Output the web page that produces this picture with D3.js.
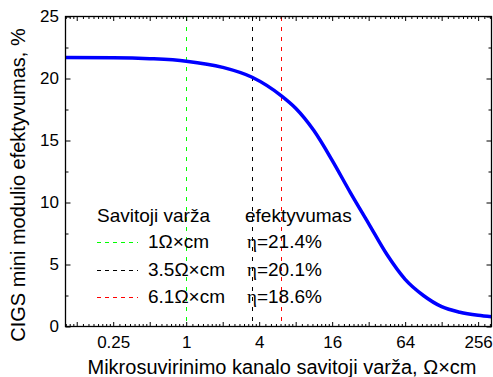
<!DOCTYPE html>
<html>
<head>
<meta charset="utf-8">
<script src="https://cdn.jsdelivr.net/npm/d3@7"></script>
<style>
  body { margin: 0; background: #fff; }
  svg { display: block; }
  text { font-family: "Liberation Sans", Arial, sans-serif; fill: #000; }
</style>
</head>
<body>
<svg id="chart" width="493" height="377"></svg>
<script>
// Module efficiency vs. micro-weld channel sheet resistance
const resistance = [0.1, 0.25, 0.5, 1, 2, 3.5, 6.1, 8, 11.3, 16, 22.6, 32, 45.3, 64, 90.5, 128, 181, 256, 330];
const efficiency = [21.7, 21.68, 21.6, 21.4, 20.9, 20.1, 18.6, 17.6, 15.8, 13.4, 10.8, 8.3, 5.8, 3.8, 2.5, 1.6, 1.15, 0.9, 0.78];

// Marked resistances and their efficiencies
const markerResistance = [1, 3.5, 6.1];
const markerEfficiency = [21.4, 20.1, 18.6];
const markerColors = ["#00ff00", "#000000", "#ff0000"];

const xTickValues = [0.25, 1, 4, 16, 64, 256];
const xTickLabels = ["0.25", "1", "4", "16", "64", "256"];
const yTickValues = [0, 5, 10, 15, 20, 25];
const yMinorValues = [2.5, 7.5, 12.5, 17.5, 22.5];

const legendTitle = "Savitoji varža";
const legendValueTitle = "efektyvumas";
const xTitle = "Mikrosuvirinimo kanalo savitoji varža, Ω×cm";
const yTitle = "CIGS mini modulio efektyvumas, %";

const plot = { left: 65.5, right: 491.5, top: 16.5, bottom: 326.5 };

const x = d3.scaleLog().base(2).domain([0.101, 330]).range([plot.left, plot.right]);
const y = d3.scaleLinear().domain([0, 25]).range([plot.bottom, plot.top]);

// octave ticks and 1/8-octave-step minor ticks
const octaves = d3.range(-3, 9).map(k => Math.pow(2, k));
const minors = [];
for (let k = -4; k <= 8; k++) {
  for (let i = 1; i <= 7; i++) {
    const v = Math.pow(2, k) * (1 + i / 8);
    if (v >= x.domain()[0] && v <= x.domain()[1]) minors.push(v);
  }
}
const labelFor = d => {
  const idx = xTickValues.findIndex(t => Math.abs(t - d) < 1e-9);
  return idx >= 0 ? xTickLabels[idx] : "";
};

const svg = d3.select("#chart");

svg.append("defs").append("clipPath").attr("id", "plotClip")
  .append("rect")
  .attr("x", plot.left).attr("y", plot.top)
  .attr("width", plot.right - plot.left).attr("height", plot.bottom - plot.top);

// vertical dashed markers
svg.append("g").attr("shape-rendering", "crispEdges").selectAll("line")
  .data(markerResistance)
  .join("line")
  .attr("x1", d => Math.round(x(d)) + 0.5).attr("x2", d => Math.round(x(d)) + 0.5)
  .attr("y1", y(25)).attr("y2", y(0))
  .attr("stroke", (d, i) => markerColors[i])
  .attr("stroke-width", 1)
  .attr("stroke-dasharray", "4,6");

// efficiency curve
const points = resistance.map((r, i) => ({ r, e: efficiency[i] }));
svg.append("path")
  .datum(points)
  .attr("clip-path", "url(#plotClip)")
  .attr("fill", "none")
  .attr("stroke", "#0000ff")
  .attr("stroke-width", 3.5)
  .attr("d", d3.line().x(d => x(d.r)).y(d => y(d.e)).curve(d3.curveMonotoneX));

// legend
const legend = svg.append("g").attr("font-size", 19);
legend.append("text").attr("x", 97).attr("y", 222).text(legendTitle);
legend.append("text").attr("x", 245).attr("y", 222).text(legendValueTitle);
const rows = legend.selectAll("g.row")
  .data(markerResistance)
  .join("g")
  .attr("class", "row")
  .attr("transform", (d, i) => `translate(0,${248 + i * 27.5})`);
rows.append("line")
  .attr("x1", 97).attr("x2", 138).attr("y1", -5.5).attr("y2", -5.5)
  .attr("shape-rendering", "crispEdges")
  .attr("stroke", (d, i) => markerColors[i])
  .attr("stroke-width", 1)
  .attr("stroke-dasharray", "4,4");
rows.append("text").attr("x", 148).attr("y", 0).text(d => `${d}Ω×cm`);
const effText = rows.append("text").attr("x", 247).attr("y", 0);
effText.append("tspan").attr("font-family", "'Liberation Serif', 'DejaVu Serif', serif").text("η");
effText.append("tspan").text((d, i) => `=${markerEfficiency[i]}%`);

// axes: ticks point inward on all four sides
function styleAxis(g, size) {
  g.select(".domain").remove();
  g.selectAll(".tick line").attr("stroke", "#000").attr("stroke-width", 1);
  g.selectAll("text").attr("font-size", size).attr("font-family", null).attr("fill", "#000");
}

svg.append("g").attr("transform", `translate(0,${plot.bottom})`)
  .call(d3.axisBottom(x).tickValues(octaves).tickSize(-4.5).tickPadding(9.5).tickFormat(labelFor))
  .call(g => styleAxis(g, 17));
svg.append("g").attr("transform", `translate(0,${plot.bottom})`)
  .call(d3.axisBottom(x).tickValues(minors).tickSize(-2.5).tickFormat(""))
  .call(g => styleAxis(g, 17));
svg.append("g").attr("transform", `translate(0,${plot.top})`)
  .call(d3.axisTop(x).tickValues(octaves).tickSize(-4.5).tickFormat(""))
  .call(g => styleAxis(g, 17));
svg.append("g").attr("transform", `translate(0,${plot.top})`)
  .call(d3.axisTop(x).tickValues(minors).tickSize(-2.5).tickFormat(""))
  .call(g => styleAxis(g, 17));

svg.append("g").attr("transform", `translate(${plot.left},0)`)
  .call(d3.axisLeft(y).tickValues(yTickValues).tickSize(-5).tickPadding(6.5).tickFormat(d3.format("d")))
  .call(g => styleAxis(g, 17));
svg.append("g").attr("transform", `translate(${plot.left},0)`)
  .call(d3.axisLeft(y).tickValues(yMinorValues).tickSize(-3).tickFormat(""))
  .call(g => styleAxis(g, 17));
svg.append("g").attr("transform", `translate(${plot.right},0)`)
  .call(d3.axisRight(y).tickValues(yTickValues).tickSize(-5).tickFormat(""))
  .call(g => styleAxis(g, 17));
svg.append("g").attr("transform", `translate(${plot.right},0)`)
  .call(d3.axisRight(y).tickValues(yMinorValues).tickSize(-3).tickFormat(""))
  .call(g => styleAxis(g, 17));

// frame
svg.append("rect")
  .attr("x", plot.left).attr("y", plot.top)
  .attr("width", plot.right - plot.left).attr("height", plot.bottom - plot.top)
  .attr("fill", "none").attr("stroke", "#000").attr("stroke-width", 1.3);

// axis titles
svg.append("text")
  .attr("x", 282).attr("y", 374)
  .attr("text-anchor", "middle").attr("font-size", 20)
  .text(xTitle);
svg.append("text")
  .attr("transform", "translate(25,185) rotate(-90)")
  .attr("text-anchor", "middle").attr("font-size", 20)
  .text(yTitle);
</script>
</body>
</html>
